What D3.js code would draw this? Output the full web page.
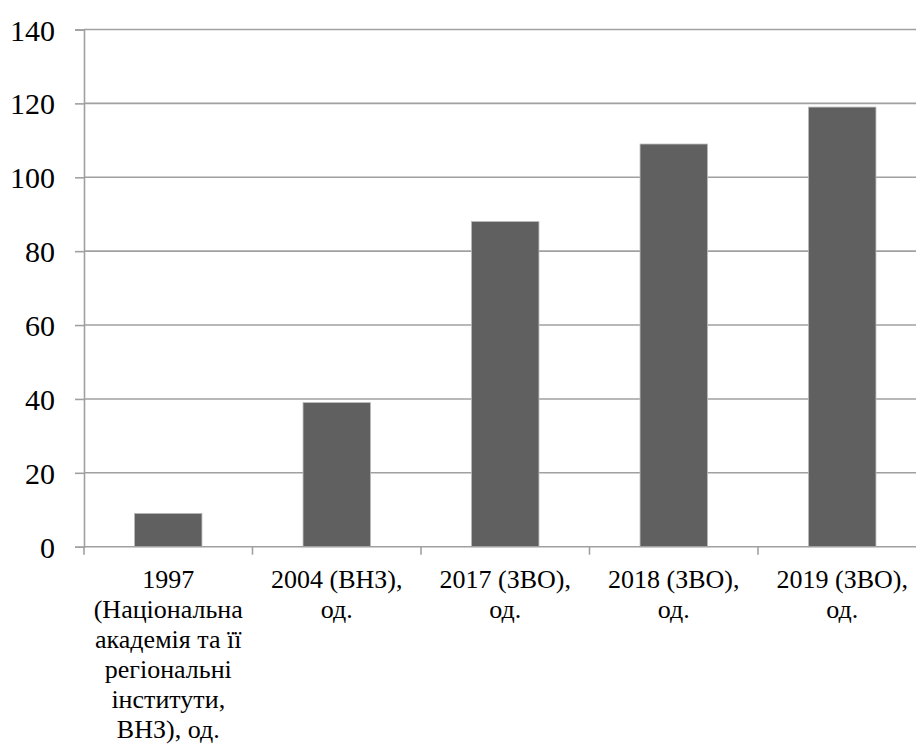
<!DOCTYPE html>
<html lang="uk">
<head>
<meta charset="utf-8">
<script src="https://cdn.jsdelivr.net/npm/d3@7"></script>
</head>
<body style="margin:0; font-family: 'Liberation Serif', serif;">
<svg></svg>
<script>
// categories, one array of lines per tick label
let categories = ['1997', '2004', '2017', '2018', '2019']
let labelLines = [
  ['1997', '(Національна', 'академія та її', 'регіональні', 'інститути,', 'ВНЗ), од.'],
  ['2004 (ВНЗ),', 'од.'],
  ['2017 (ЗВО),', 'од.'],
  ['2018 (ЗВО),', 'од.'],
  ['2019 (ЗВО),', 'од.']
]
let values = [9, 39, 88, 109, 119]
let yTicks = [0, 20, 40, 60, 80, 100, 120, 140]

let width = 916
let height = 745
let plotLeft = 84
let plotRight = 926.5
let plotTop = 29.5
let plotBottom = 546.7

let svg = d3.select('svg')
  .attr('width', width)
  .attr('height', height)
  .style('font-family', "'Liberation Serif', serif")

let xScale = d3.scaleBand()
  .domain(categories)
  .range([plotLeft, plotRight])
  .paddingInner(0.6)
  .paddingOuter(0.3)

let yScale = d3.scaleLinear()
  .domain([0, 140])
  .range([plotBottom, plotTop])

// gridlines
svg.append('g')
  .selectAll('line')
  .data(yTicks.filter(d => d > 0))
  .enter()
  .append('line')
  .attr('x1', plotLeft)
  .attr('x2', plotRight)
  .attr('y1', d => yScale(d))
  .attr('y2', d => yScale(d))
  .attr('stroke', '#a0a0a0')
  .attr('stroke-width', 1.6)

// bars
svg.selectAll('rect.bar')
  .data(values)
  .enter()
  .append('rect')
  .attr('class', 'bar')
  .attr('x', (d, i) => xScale(categories[i]))
  .attr('width', xScale.bandwidth())
  .attr('y', d => yScale(d))
  .attr('height', d => plotBottom - yScale(d))
  .attr('fill', '#606060')
  .attr('stroke', '#b8b8b8')
  .attr('stroke-width', 0.8)

// y axis
let yAxis = d3.axisLeft(yScale).tickValues(yTicks).tickSize(9).tickPadding(20)
let gy = svg.append('g')
  .attr('transform', 'translate(' + plotLeft + ',0)')
  .call(yAxis)
  .attr('font-family', null)
  .attr('font-size', null)
gy.select('.domain').attr('stroke', '#a0a0a0').attr('stroke-width', 1.6)
gy.selectAll('.tick line').attr('stroke', '#a0a0a0').attr('stroke-width', 1.6)
gy.selectAll('.tick text')
  .attr('dy', null)
  .attr('y', 10.5)
  .attr('fill', 'black')
  .attr('font-family', 'Liberation Serif')
  .attr('font-size', 30)

// x axis line and tick marks at category boundaries
let step = xScale.step()
let boundaries = d3.range(categories.length + 1).map(i => plotLeft + i * step)
svg.append('line')
  .attr('x1', plotLeft).attr('x2', plotRight)
  .attr('y1', plotBottom).attr('y2', plotBottom)
  .attr('stroke', '#a0a0a0').attr('stroke-width', 1.6)
svg.append('g')
  .selectAll('line')
  .data(boundaries)
  .enter()
  .append('line')
  .attr('x1', d => d).attr('x2', d => d)
  .attr('y1', plotBottom).attr('y2', plotBottom + 8)
  .attr('stroke', '#a0a0a0').attr('stroke-width', 1.6)

// x labels
labelLines.forEach((lines, i) => {
  let cx = xScale(categories[i]) + xScale.bandwidth() / 2
  lines.forEach((t, j) => {
    svg.append('text')
      .attr('x', cx)
      .attr('y', 588 + j * 30)
      .attr('text-anchor', 'middle')
      .attr('font-family', 'Liberation Serif')
      .attr('font-size', 26)
      .text(t)
  })
})
</script>
</body>
</html>
